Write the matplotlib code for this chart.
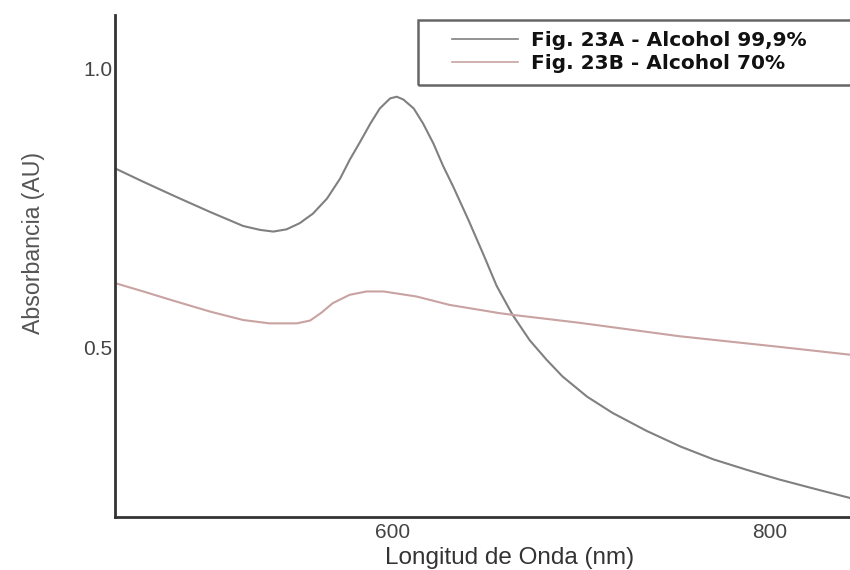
import matplotlib.pyplot as plt
from matplotlib.patches import Rectangle

# Wavelength (nm) and absorbance
wl_a = [452.5, 467.5, 485, 503, 520.5, 529.5, 536.5, 543.5, 550.5, 557.5, 565, 572, 577, 582.5,
        588, 593, 598.5, 602, 605.5, 611, 616, 621.5, 626.5, 632, 640, 648, 655, 663.5, 672.5,
        681.5, 690, 703, 716.5, 734.5, 752.5, 770, 788, 805, 823, 842.5]
abs_a = [0.821, 0.797, 0.770, 0.743, 0.718, 0.711, 0.708, 0.712, 0.723, 0.740, 0.767, 0.803, 0.836,
         0.868, 0.901, 0.928, 0.946, 0.949, 0.944, 0.928, 0.901, 0.865, 0.826, 0.788, 0.729, 0.667,
         0.611, 0.559, 0.514, 0.479, 0.449, 0.413, 0.384, 0.352, 0.324, 0.301, 0.282, 0.265, 0.249,
         0.232]

wl_b = [452.5, 467.5, 485, 503, 520.5, 534.5, 549, 556, 562, 568, 577, 586, 595, 612.5, 630, 657,
        664, 699, 752, 805, 842.5]
abs_b = [0.616, 0.601, 0.583, 0.565, 0.550, 0.544, 0.544, 0.549, 0.563, 0.580, 0.595, 0.601, 0.601,
         0.592, 0.577, 0.562, 0.559, 0.545, 0.521, 0.502, 0.488]

labels = ['Fig. 23A - Alcohol 99,9%', 'Fig. 23B - Alcohol 70%']
x_ticks = [600, 800]
y_ticks = [0.5, 1.0]
y_ticklabels = ['0.5', '1.0']

plt.rcParams['font.family'] = ['Liberation Sans', 'DejaVu Sans']

fig = plt.figure(figsize=(8.5, 5.7), dpi=100)
W, H = 850, 570
ax = fig.add_axes([115 / W, 1 - 517 / H, 1 - 115 / W, (517 - 15) / H])

line_a, = ax.plot(wl_a, abs_a, color='#808080', lw=1.5, label=labels[0])
line_b, = ax.plot(wl_b, abs_b, color='#c9a2a2', lw=1.5, label=labels[1])

ax.set_xlim(452.5, 842.5)
ax.set_ylim(0.198, 1.095)
ax.set_xticks(x_ticks)
ax.set_yticks(y_ticks)
ax.set_yticklabels(y_ticklabels)
ax.tick_params(length=0, labelsize=15, colors='#444444')
ax.tick_params(axis='x', pad=4)
ax.tick_params(axis='y', pad=2)

for s in ['top', 'right']:
    ax.spines[s].set_visible(False)
for s in ['left', 'bottom']:
    ax.spines[s].set_color('#333333')
    ax.spines[s].set_linewidth(2)

# x label sits low, as in the original (baseline near the bottom edge)
ax.set_xlabel('Longitud de Onda (nm)', fontsize=17.5, color='#333333', va='baseline')
ax.xaxis.set_label_coords((510 - 115) / 735, (517 - 564) / 502)
ax.set_ylabel('Absorbancia (AU)', fontsize=16.7, color='#555555')
ax.yaxis.set_label_coords(-0.095, 0.546)

# legend box runs off the right edge in the original
fig.patches.append(Rectangle((418 / W, 1 - 85 / H), 0.6, 65 / H, transform=fig.transFigure,
                             fill=False, edgecolor='#666666', lw=1.8))
leg = fig.legend(handles=[line_a, line_b], loc='upper left',
                 bbox_to_anchor=(452 / W, 1 - 31 / H),
                 prop={'family': 'DejaVu Sans', 'weight': 'bold', 'size': 14.5},
                 frameon=False, handlelength=3.3, handletextpad=0.6,
                 borderpad=0, labelspacing=0.2, borderaxespad=0)
for t in leg.get_texts():
    t.set_color('#111111')
for h in leg.get_lines():
    h.set_linewidth(1.2)

fig.savefig('out.png', dpi=100)
